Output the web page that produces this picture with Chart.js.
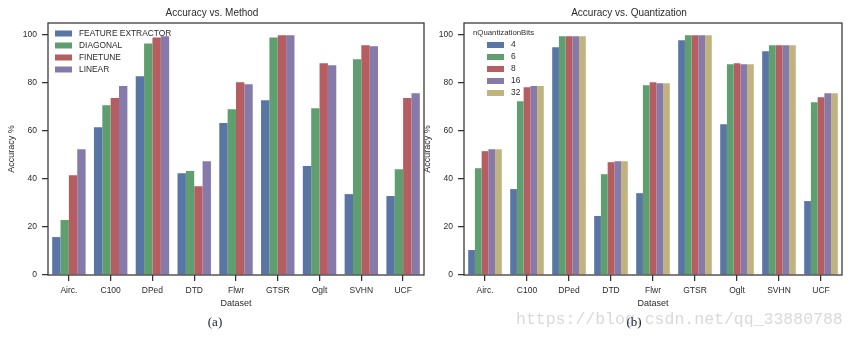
<!DOCTYPE html>
<html>
<head>
<meta charset="utf-8">
<script src="https://cdn.jsdelivr.net/npm/chart.js@4"></script>
<style>
body{margin:0;width:856px;height:341px;background:#fff;position:relative;overflow:hidden}
canvas{position:absolute;top:0}
#methodChart{left:0}
#quantChart{left:416px}
#wm{position:absolute;left:516px;top:311px;font:16.5px "Liberation Mono",monospace;line-height:17px;color:#d9d9d9;white-space:nowrap}
.cap{position:absolute;top:315px;width:40px;text-align:center;font:13px "Liberation Serif",serif;line-height:14px;color:#1c1c38}
</style>
</head>
<body>
<canvas id="methodChart" width="428" height="341"></canvas>
<canvas id="quantChart" width="440" height="341"></canvas>
<div id="wm">https://blog.csdn.net/qq_33880788</div>
<div class="cap" style="left:195px">(a)</div>
<div class="cap" style="left:614px">(b)</div>
<script>
const datasetNames = ['Airc.', 'C100', 'DPed', 'DTD', 'Flwr', 'GTSR', 'Oglt', 'SVHN', 'UCF'];

// accuracy per training method
const featureExtractor = [15.8, 61.6, 82.8, 42.4, 63.3, 72.8, 45.4, 33.7, 32.9];
const diagonal = [22.9, 70.7, 96.5, 43.3, 69.1, 99.0, 69.5, 89.9, 44.1];
const finetune = [41.6, 73.7, 99.0, 37.0, 80.3, 99.9, 88.2, 95.7, 73.7];
const linear = [52.4, 78.7, 99.5, 47.4, 79.5, 99.9, 87.4, 95.3, 75.7];

// accuracy per number of quantization bits
const bitLabels = ['4', '6', '8', '16', '32'];
const bits4 = [10.4, 35.8, 94.9, 24.6, 34.1, 97.8, 62.8, 93.2, 30.8];
const bits6 = [44.5, 72.4, 99.5, 42.0, 79.1, 99.9, 87.8, 95.7, 72.0];
const bits8 = [51.6, 78.2, 99.5, 47.0, 80.3, 99.9, 88.2, 95.7, 74.1];
const bits16 = [52.4, 78.7, 99.5, 47.4, 79.9, 99.9, 87.8, 95.7, 75.7];
const bits32 = [52.4, 78.7, 99.5, 47.4, 79.9, 99.9, 87.8, 95.7, 75.7];

const palette = ['#5875a4', '#5f9e6e', '#b55d60', '#857aaa', '#c1b37f'];
const ink = '#2b2b2b';
const family = '"Liberation Sans", Arial, sans-serif';

// full box around the plot area
const frame = {
  id: 'frame',
  afterDatasetsDraw(chart) {
    const a = chart.chartArea, ctx = chart.ctx;
    ctx.save();
    ctx.strokeStyle = '#333';
    ctx.lineWidth = 1.25;
    ctx.strokeRect(a.left, a.top, a.right - a.left, a.bottom - a.top);
    ctx.restore();
  }
};

// small legend inside the top-left corner
const boxLegend = {
  id: 'boxLegend',
  afterDatasetsDraw(chart, args, opts) {
    const a = chart.chartArea, ctx = chart.ctx;
    let y = a.top + opts.dy;
    ctx.save();
    ctx.textBaseline = 'middle';
    if (opts.title) {
      ctx.font = '7.8px ' + family;
      ctx.fillStyle = ink;
      ctx.fillText(opts.title, a.left + 9, a.top + 9.5);
    }
    ctx.font = '8.4px ' + family;
    chart.data.datasets.forEach(ds => {
      ctx.fillStyle = ds.backgroundColor;
      ctx.fillRect(a.left + opts.dx, y - 3, 17, 6);
      ctx.fillStyle = ink;
      ctx.fillText(ds.label, a.left + opts.dx + 24, y);
      y += 12;
    });
    ctx.restore();
  }
};

function makeChart(id, title, names, series, legendOpts, padRight) {
  const datasets = series.map((s, i) => ({
    label: names[i],
    data: s,
    backgroundColor: palette[i],
    borderWidth: 0,
    categoryPercentage: 0.8,
    barPercentage: 1.0
  }));
  return new Chart(document.getElementById(id), {
    type: 'bar',
    data: { labels: datasetNames, datasets: datasets },
    plugins: [frame, boxLegend],
    options: {
      responsive: false,
      animation: false,
      layout: { padding: { left: 0, right: padRight, top: 0, bottom: 30 } },
      plugins: {
        legend: { display: false },
        tooltip: { enabled: false },
        title: {
          display: true, text: title, color: ink,
          font: { family: family, size: 10, weight: 'normal' },
          padding: { top: 7, bottom: 4 }
        },
        boxLegend: legendOpts
      },
      scales: {
        x: {
          offset: true,
          ticks: { color: ink, padding: 5, font: { family: family, size: 8.5 } },
          grid: { offset: false, drawOnChartArea: false, tickLength: 6, color: '#333', lineWidth: 1.25 },
          border: { display: false },
          title: { display: true, text: 'Dataset', color: ink, font: { family: family, size: 9 }, padding: { top: 0, bottom: 2 } },
          afterFit(s) { s.height = 36; }
        },
        y: {
          min: 0, max: 105,
          ticks: { stepSize: 20, includeBounds: false, color: ink, padding: 5, font: { family: family, size: 8.5 } },
          grid: { drawOnChartArea: false, tickLength: 6, color: '#333', lineWidth: 1.25 },
          border: { display: false },
          title: { display: true, text: 'Accuracy %', color: ink, font: { family: family, size: 9 }, padding: { top: 6, bottom: 0 } },
          afterFit(s) { s.width = 48; }
        }
      }
    }
  });
}

makeChart('methodChart', 'Accuracy vs. Method',
  ['FEATURE EXTRACTOR', 'DIAGONAL', 'FINETUNE', 'LINEAR'],
  [featureExtractor, diagonal, finetune, linear],
  { dx: 7, dy: 10.5 }, 4);

makeChart('quantChart', 'Accuracy vs. Quantization',
  bitLabels,
  [bits4, bits6, bits8, bits16, bits32],
  { dx: 23, dy: 22, title: 'nQuantizationBits' }, 14);
</script>
</body>
</html>
